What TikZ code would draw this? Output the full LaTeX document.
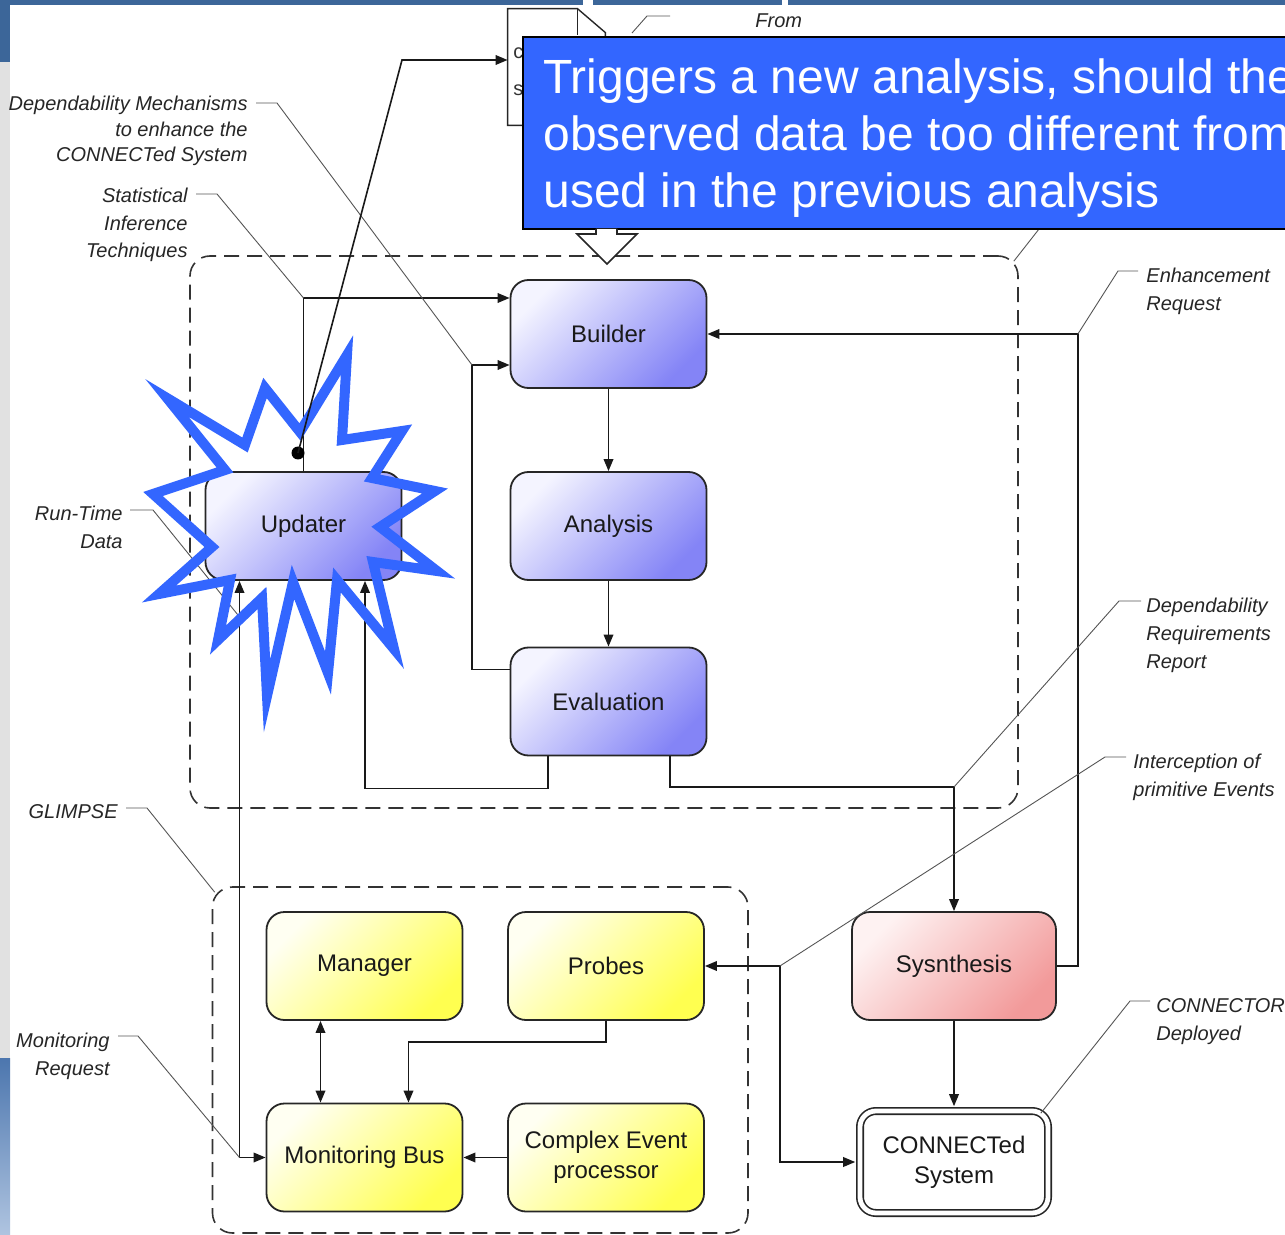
\documentclass[tikz,border=0pt]{standalone}
\usepackage{fontspec}
\setmainfont{Liberation Sans}
\usetikzlibrary{arrows.meta,positioning,calc}
\definecolor{bandblue}{HTML}{3C6699}
\definecolor{sidegrey}{HTML}{E1E1E1}
\definecolor{sideblueA}{HTML}{4C76AE}
\definecolor{sideblueB}{HTML}{AFC4E0}
\definecolor{notecol}{HTML}{3366FF}
\definecolor{bluehi}{HTML}{F4F4FF}
\definecolor{bluelo}{HTML}{8484F6}
\definecolor{yelhi}{HTML}{FFFFF2}
\definecolor{yello}{HTML}{FFFF50}
\definecolor{redhi}{HTML}{FEF2F2}
\definecolor{redlo}{HTML}{F29A9A}
\definecolor{ldrgrey}{HTML}{555555}

\begin{document}
\begin{tikzpicture}[
  x=0.5pt, y=-0.5pt,
  >={Triangle[length=6pt,width=4.8pt]},
  arr/.style={->, line width=0.8pt, black!90},
  arrs/.style={<->, line width=0.8pt, black!90},
  blk/.style={draw=black!85, line width=0.9pt, rounded corners=9pt, minimum width=98pt, minimum height=54pt, align=center, font=\fontsize{12}{15}\selectfont, text=black!90},
  procbox/.style={blk, top color=bluehi, bottom color=bluelo, shading angle=45},
  monbox/.style={blk, top color=yelhi, bottom color=yello, shading angle=45},
  synbox/.style={blk, minimum width=102pt, top color=redhi, bottom color=redlo, shading angle=45},
  sysbox/.style={draw=black!85, line width=0.8pt, double=white, double distance=2.4pt, fill=white, rounded corners=8pt, minimum width=94pt, minimum height=51pt, align=center, font=\fontsize{12}{15}\selectfont, text=black!90},
  grp/.style={draw=black!80, line width=0.8pt, dash pattern=on 7.5pt off 4pt, rounded corners=10pt},
  ldr/.style={draw=ldrgrey, line width=0.45pt},
  lbl/.style={inner sep=0pt, text=black!85, font=\fontsize{10}{14}\selectfont\itshape},
  starline/.style={draw=notecol, line width=5pt, line join=miter, miter limit=20},
]
\useasboundingbox (0,0) rectangle (1285,1235);
\clip (0,0) rectangle (1285,1235);

% slide background
\fill[white] (0,0) rectangle (1285,1235);
\fill[bandblue] (0,0) rectangle (10,62);
\fill[sidegrey] (0,62) rectangle (10,1058);
\shade[top color=sideblueA, bottom color=sideblueB] (0,1058) rectangle (10,1235);
\fill[bandblue] (10,0) rectangle (583,5);
\fill[bandblue] (593,0) rectangle (782,5);
\fill[bandblue] (788,0) rectangle (1285,5);

% groups
\node[grp, minimum width=414pt, minimum height=276pt] (dep) at (604,532) {};
\node[grp, minimum width=267.75pt, minimum height=173pt] (glimpse) at (480.25,1060) {};

% boxes
\node[procbox] (builder) at (608.5,334) {Builder};
\node[procbox] (analysis) at (608.5,526) {Analysis};
\node[procbox] (evaluation) at (608.5,701.5) {Evaluation};
\node[procbox] (updater) at (303.5,526) {Updater};
\node[synbox] (synthesis) at (954,966) {Sysnthesis};
\node[sysbox] (cs) at (954,1162) {CONNECTed\\System};
\node[monbox] (manager) at (364.5,966) {Manager};
\node[monbox] (probes) at (606,966) {Probes};
\node[monbox] (mb) at (364.5,1157.5) {Monitoring Bus};
\node[monbox] (cep) at (606,1157.5) {Complex Event\\processor};

% helper points
\coordinate (evloop) at (472,365);
\coordinate (upcorner) at (303.5,298);
\coordinate (sync) at (954,787);
\coordinate (ipec) at ($(probes.east)+(75,0)$);
\coordinate (enhc) at ($(synthesis.east |- builder.east)+(21,0)$);
\coordinate (rtj) at ($(updater.south |- mb.west)+(-64,0)$);
\coordinate (rtdc) at ($(updater.south)+(-64,36)$);

% connectors
\draw[arr] (builder) -- (analysis);
\draw[arr] (analysis) -- (evaluation);
\draw[arr] ([yshift=16pt]evaluation.west) -| (evloop) -- (evloop -| builder.west);
\draw[arr] (updater.north) -- (upcorner) -- (upcorner -| builder.west);
\draw[arr] ([xshift=-30.25pt]evaluation.south) -- ++(0,32) -| ([xshift=30.75pt]updater.south);
\draw[arr] ([xshift=30.75pt]evaluation.south) |- (sync) -- (synthesis.north);
\draw[arr] (synthesis.east) -| (enhc) -- (builder.east);
\draw[arr, shorten >=2pt] (synthesis) -- (cs);
\draw[arrs, shorten >=2pt] (probes.east) -- (ipec) |- (cs.west);
\draw[arrs] ([xshift=-32pt]updater.south) -- (rtj) -- (mb.west);
\draw[arrs] ([xshift=-22pt]manager.south) -- ([xshift=-22pt]mb.north);
\draw[arr] (probes.south) -- ++(0,21) -| ([xshift=22pt]mb.north);
\draw[arr] (cep) -- (mb);

% labels
\node[lbl, align=right, anchor=north east, font=\fontsize{10}{12.75}\selectfont\itshape] (mechlbl) at (248,96) {Dependability Mechanisms\\to enhance the\\CONNECTed System};
\node[lbl, align=right, anchor=north east, font=\fontsize{10}{13.75}\selectfont\itshape] (statlbl) at (188,188) {Statistical\\Inference\\Techniques};
\node[lbl, align=right, anchor=north east] (rtlbl) at (123,506) {Run-Time\\Data};
\node[lbl, align=right, anchor=north east] (glimlbl) at (118,804) {GLIMPSE};
\node[lbl, align=right, anchor=north east] (monlbl) at (110,1033) {Monitoring\\Request};
\node[lbl, align=left, anchor=north west] (enhlbl) at (1146,268) {Enhancement\\Request};
\node[lbl, align=left, anchor=north west] (drrlbl) at (1146,598) {Dependability\\Requirements\\Report};
\node[lbl, align=left, anchor=north west] (intlbl) at (1133,754) {Interception of\\primitive Events};
\node[lbl, align=left, anchor=north west] (conlbl) at (1156,998) {CONNECTOR\\Deployed};
\node[lbl, anchor=north west] (fromlbl) at (755,13) {From};

% leaders
\draw[ldr] ([xshift=4pt,yshift=-3.5pt]mechlbl.north east) -- ++(21,0) -- (evloop);
\draw[ldr] ([xshift=4pt,yshift=-3pt]statlbl.north east) -- ++(21,0) -- (upcorner);
\draw[ldr] ([xshift=3.5pt,yshift=-2pt]rtlbl.north east) -- ++(23,0) -- (rtdc);
\draw[ldr] ([xshift=4pt,yshift=-2pt]glimlbl.north east) -- ++(21,0) -- ([xshift=1.5pt,yshift=-3pt]glimpse.north west);
\draw[ldr] ([xshift=4pt,yshift=-1.5pt]monlbl.north east) -- ++(20,0) -- (rtj);
\draw[ldr] ([xshift=-4pt,yshift=-1.5pt]enhlbl.north west) -- ++(-20,0) -- (enhc);
\draw[ldr] ([xshift=-2.5pt,yshift=-1.5pt]drrlbl.north west) -- ++(-22,0) -- (sync);
\draw[ldr] ([xshift=-3.5pt,yshift=-1.5pt]intlbl.north west) -- ++(-21,0) -- (ipec);
\draw[ldr] ([xshift=-3pt,yshift=-1.5pt]conlbl.north west) -- ++(-20,0) -- ([xshift=-4pt,yshift=-1.5pt]cs.north east);
\draw[ldr] ([xshift=-2.5pt,yshift=-3pt]dep.north east) -- (1050,215);
\draw[ldr] (670,16) -- (647,16) -- (632,33);

% document
\node[minimum width=48.5pt, minimum height=58pt, inner sep=0pt] (doc) at (556.5,67) {};
\draw[fill=white, draw=black!85, line width=0.7pt] (doc.south west) |- ([xshift=-14pt]doc.north east) -- ([yshift=-12pt]doc.north east) -- (doc.south east) -- cycle;
\draw[draw=black!85, line width=0.7pt] ([xshift=-14pt]doc.north east) -- ++(0,26);
\node[anchor=west, inner sep=0pt, font=\fontsize{10}{12}\selectfont, text=black!80] (docc) at (513,53) {c};
\node[anchor=west, inner sep=0pt, font=\fontsize{10}{12}\selectfont, text=black!80] (docs) at (513,90) {s};

% starburst
\draw[starline] (347,355) -- (342,440) -- (402,431) -- (372,478) -- (435,491) -- (380,527) -- (437,571) -- (373,562) -- (394,649) -- (337,580) -- (328,673) -- (293,582) -- (267,696) -- (262,598) -- (218,640) -- (230,580) -- (159,594) -- (212,547) -- (153,494) -- (225,470) -- (167,398) -- (245,445) -- (265,388) -- (300,432) -- cycle;
\node[circle, fill=black, inner sep=0pt, minimum size=6.5pt] (dot) at (298,453) {};
\draw[arr] (dot.center) -- (402,60) -- ([yshift=3.5pt]doc.west);

% callout
\node[draw=black, line width=1pt, fill=notecol, anchor=north west, minimum width=400pt, minimum height=96pt, inner sep=0pt] (note) at (522,36) {};
\node[anchor=north west, inner sep=0pt, align=left, text=white, font=\fontsize{24}{28.5}\selectfont] (notetxt) at (543,58) {Triggers a new analysis, should the\\observed data be too different from\\used in the previous analysis};
\draw[fill=white, draw=black!85, line width=0.8pt] (596,229) -- (596,234) -- (577,234) -- (607,264) -- (637,234) -- (617,234) -- (617,229);

\end{tikzpicture}
\end{document}
